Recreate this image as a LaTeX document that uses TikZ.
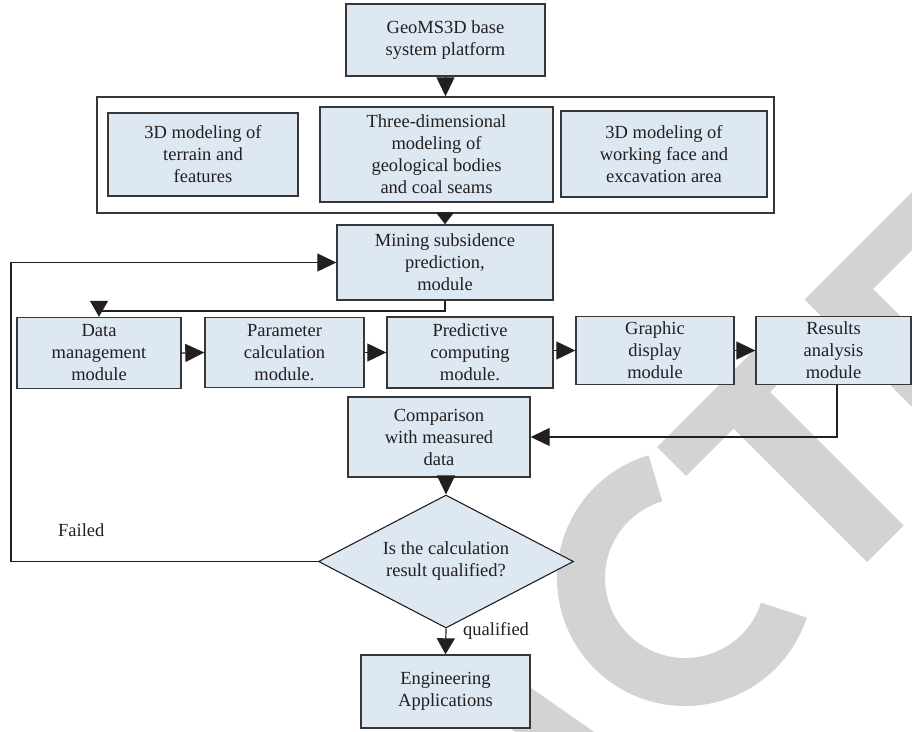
\documentclass[tikz,border=0pt]{standalone}
\usepackage{fontspec}
\setmainfont{Liberation Serif}
\usetikzlibrary{arrows.meta,shapes.geometric}
\definecolor{boxfill}{RGB}{221,232,243}
\definecolor{boxline}{RGB}{55,55,55}
\definecolor{wm}{RGB}{211,211,211}
\definecolor{ink}{RGB}{35,31,32}
\begin{document}
\begin{tikzpicture}[x=1pt,y=-1pt,
  box/.style={draw=boxline, line width=1.4pt, fill=boxfill, align=center, inner sep=0pt,
    font=\fontsize{18.5}{22}\selectfont, text=ink},
  framebox/.style={draw=boxline, line width=1.4pt, inner sep=0pt},
  decision/.style={diamond, draw=ink, line width=1.1pt, fill=boxfill, align=center, inner sep=0pt,
    aspect=2, font=\fontsize{18.5}{22}\selectfont, text=ink},
  conn/.style={draw=ink, line width=1.2pt},
  arr/.style={conn, -{Triangle[length=19pt,width=18pt]}},
  arrshort/.style={conn, -{Triangle[length=12pt,width=18pt]}},
  arrmid/.style={conn, -{Triangle[length=16pt,width=18pt]}},
  lbl/.style={font=\fontsize{18.5}{22}\selectfont, inner sep=0pt, text=ink},
  wmark/.style={fill=wm, draw=none},
]
\useasboundingbox (0,0) rectangle (912,731);

% watermark (behind everything): parts of the letters A, C, T, E
% A (right stroke)
\fill[wmark] (491,660) -- (663,780) -- (637,817) -- (465,697) -- cycle;
% C
\begin{scope}[shift={(685,578)}]
  \fill[wmark] (106.5:128pt) arc[start angle=106.5, end angle=342, radius=128pt]
    -- (342:80pt) arc[start angle=342, end angle=106.5, radius=80pt] -- cycle;
\end{scope}
% T
\fill[wmark] (657,447) -- (788.5,315.5) -- (817.5,344.5) -- (686,476) -- cycle;
\fill[wmark] (733.5,428.5) -- (770,392) -- (903.5,525.5) -- (867,562) -- cycle;
% E
\fill[wmark] (804.5,299.5) -- (912,192) -- (912,250) -- (873,289) -- (912,328)
  -- (912,407) -- cycle;

% nodes
\node[box, minimum width=199, minimum height=72] (top) at (445.5,40) {GeoMS3D base\\system platform};
\node[framebox, minimum width=677, minimum height=116] (frame) at (435.5,155) {};
\node[box, minimum width=190, minimum height=83] (b1) at (203,154.5) {3D modeling of\\terrain and\\features};
\node[box, minimum width=233, minimum height=95] (b2) at (436.5,154.5) {Three-dimensional\\modeling of\\geological bodies\\and coal seams};
\node[box, minimum width=206, minimum height=86] (b3) at (664,154) {3D modeling of\\working face and\\excavation area};
\node[box, minimum width=216, minimum height=75] (mining) at (445,262.5) {Mining subsidence\\prediction,\\module};

\node[box, minimum width=164, minimum height=71] (data) at (99,353) {Data\\management\\module};
\node[box, minimum width=159, minimum height=70] (param) at (284.5,352.5) {Parameter\\calculation\\module.};
\node[box, minimum width=166, minimum height=71] (pred) at (470,352.5) {Predictive\\computing\\module.};
\node[box, minimum width=158, minimum height=68] (graphic) at (655,350.5) {Graphic\\display\\module};
\node[box, minimum width=155, minimum height=68] (results) at (833.5,350.5) {Results\\analysis\\module};

\node[box, minimum width=182, minimum height=80] (comp) at (439,437) {Comparison\\with measured\\data};
\node[decision, minimum width=255, minimum height=133] (dec) at (446,561.5) {Is the calculation\\result qualified?};
\node[box, minimum width=169, minimum height=73] (eng) at (445.5,691.5) {Engineering\\Applications};

\node[lbl, anchor=base west] (failed) at (58,536) {Failed};
\node[lbl, anchor=base west] (qual) at (463,635) {qualified};

% helper coordinates
\coordinate (fl) at (11,561.5);
\coordinate (md) at (445,311);
\coordinate (rc) at (837,437);

% connectors
\draw[arr] (top.south) -- (top.south |- frame.north);
\draw[arrshort] (frame.south -| mining.north) -- (mining.north);
\draw[arrmid] (mining.south) -- (md) -| (data.north);
\draw[arr] (data.east) -- (param.west);
\draw[arr] (param.east) -- (pred.west);
\draw[arr] (pred.east |- graphic.west) -- (graphic.west);
\draw[arr] (graphic.east) -- (results.west);
\draw[arr] (results.south -| rc) -- (rc) -- (comp.east);
\draw[arr] (comp.south -| dec.north) -- (dec.north);
\draw[arrmid] (dec.south) -- (eng.north);
\draw[arr] (dec.west) -- (fl) |- (mining.west);
\end{tikzpicture}
\end{document}
